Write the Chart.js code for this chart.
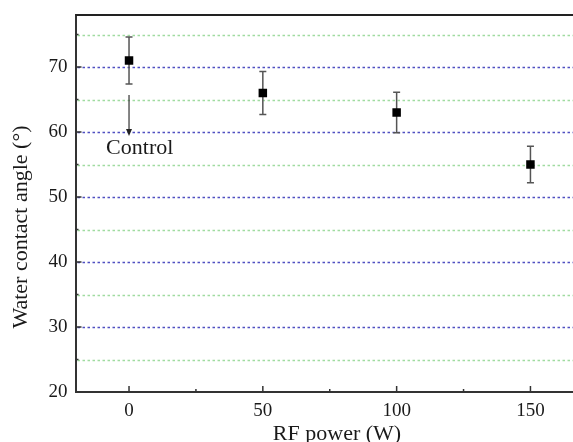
<!DOCTYPE html>
<html>
<head>
<meta charset="utf-8">
<script src="https://cdn.jsdelivr.net/npm/chart.js@4/dist/chart.umd.min.js"></script>
<style>
html,body{margin:0;padding:0;background:#fff;overflow:hidden;width:573px;height:442px;}
#wrap{width:598px;height:442px;}
</style>
</head>
<body>
<div id="wrap"><canvas id="c" width="598" height="442"></canvas></div>
<script>
// ---- data ----
const rfPower = [0, 50, 100, 150];
const contactAngle = [71, 66, 63, 55];
const angleError = [3.6, 3.3, 3.1, 2.8];
const xMajorTicks = [0, 50, 100, 150];
const xMinorTicks = [25, 75, 125, 175];
const yMajorTicks = [20, 30, 40, 50, 60, 70];
const yMinorTicks = [25, 35, 45, 55, 65, 75];
const majorGridValues = [30, 40, 50, 60, 70];
const minorGridValues = [25, 35, 45, 55, 65, 75];
const xTitle = 'RF power (W)';
const yTitle = 'Water contact angle (\u00B0)';
const annotationText = 'Control';
const arrowFrom = [0, 65.7];
const arrowTo = [0, 59.4];
const annotationPos = [4, 57.5];

const FONT = '"Liberation Serif", "Times New Roman", serif';

const decorPlugin = {
  id: 'decor',
  beforeDatasetsDraw(chart) {
    const {ctx, chartArea: a, scales: {x, y}} = chart;
    ctx.save();
    // grid lines
    ctx.lineWidth = 1.3;
    ctx.setLineDash([2.5, 2.5]);
    ctx.strokeStyle = 'rgba(150,215,150,0.9)';
    minorGridValues.forEach(v => {
      const py = Math.round(y.getPixelForValue(v)) + 0.5;
      ctx.beginPath(); ctx.moveTo(a.left + 2, py); ctx.lineTo(a.right, py); ctx.stroke();
    });
    ctx.strokeStyle = 'rgba(70,70,190,0.95)';
    majorGridValues.forEach(v => {
      const py = Math.round(y.getPixelForValue(v)) + 0.5;
      ctx.beginPath(); ctx.moveTo(a.left + 2, py); ctx.lineTo(a.right, py); ctx.stroke();
    });
    ctx.setLineDash([]);
    // top frame line
    ctx.strokeStyle = '#222';
    ctx.lineWidth = 2;
    ctx.beginPath(); ctx.moveTo(a.left, a.top); ctx.lineTo(a.right, a.top); ctx.stroke();
    // inward ticks
    ctx.strokeStyle = '#333';
    ctx.lineWidth = 1.5;
    xMajorTicks.forEach(v => {
      const px = x.getPixelForValue(v);
      ctx.beginPath(); ctx.moveTo(px, a.bottom); ctx.lineTo(px, a.bottom - 6); ctx.stroke();
    });
    xMinorTicks.forEach(v => {
      const px = x.getPixelForValue(v);
      ctx.beginPath(); ctx.moveTo(px, a.bottom); ctx.lineTo(px, a.bottom - 3); ctx.stroke();
    });
    yMajorTicks.forEach(v => {
      const py = y.getPixelForValue(v);
      ctx.beginPath(); ctx.moveTo(a.left, py); ctx.lineTo(a.left + 6, py); ctx.stroke();
    });
    yMinorTicks.forEach(v => {
      const py = y.getPixelForValue(v);
      ctx.beginPath(); ctx.moveTo(a.left, py); ctx.lineTo(a.left + 3, py); ctx.stroke();
    });
    // error bars
    ctx.strokeStyle = '#555';
    ctx.lineWidth = 1.5;
    rfPower.forEach((p, i) => {
      const px = x.getPixelForValue(p);
      const hi = y.getPixelForValue(contactAngle[i] + angleError[i]);
      const lo = y.getPixelForValue(contactAngle[i] - angleError[i]);
      ctx.beginPath();
      ctx.moveTo(px, hi); ctx.lineTo(px, lo);
      ctx.moveTo(px - 3.5, hi); ctx.lineTo(px + 3.5, hi);
      ctx.moveTo(px - 3.5, lo); ctx.lineTo(px + 3.5, lo);
      ctx.stroke();
    });
    // arrow annotation
    const ax = x.getPixelForValue(arrowFrom[0]);
    const ay1 = y.getPixelForValue(arrowFrom[1]);
    const ay2 = y.getPixelForValue(arrowTo[1]);
    ctx.strokeStyle = '#333';
    ctx.fillStyle = '#222';
    ctx.lineWidth = 1.2;
    ctx.beginPath(); ctx.moveTo(ax, ay1); ctx.lineTo(ax, ay2 - 6); ctx.stroke();
    ctx.beginPath(); ctx.moveTo(ax - 3, ay2 - 7); ctx.lineTo(ax + 3, ay2 - 7); ctx.lineTo(ax, ay2); ctx.closePath(); ctx.fill();
    // annotation text
    ctx.font = '22px ' + FONT;
    ctx.textAlign = 'center';
    ctx.textBaseline = 'middle';
    ctx.fillStyle = '#1a1a1a';
    ctx.fillText(annotationText, x.getPixelForValue(annotationPos[0]), y.getPixelForValue(annotationPos[1]));
    ctx.restore();
  },
  afterDraw(chart) {
    const {ctx, chartArea: a} = chart;
    ctx.save();
    ctx.fillStyle = '#1a1a1a';
    ctx.font = '22px ' + FONT;
    // x title
    ctx.textAlign = 'center';
    ctx.textBaseline = 'alphabetic';
    ctx.fillText(xTitle, 337, 440);
    // y title
    ctx.translate(27, 227);
    ctx.rotate(-Math.PI / 2);
    ctx.textBaseline = 'alphabetic';
    ctx.fillText(yTitle, 0, 0);
    ctx.restore();
  }
};

new Chart(document.getElementById('c'), {
  type: 'scatter',
  data: {
    datasets: [{
      label: 'Water contact angle',
      data: rfPower.map((p, i) => ({x: p, y: contactAngle[i]})),
      pointStyle: 'rect',
      pointRadius: 6,
      pointHoverRadius: 6,
      backgroundColor: '#000',
      borderColor: '#000',
      borderWidth: 0
    }]
  },
  options: {
    responsive: false,
    animation: false,
    devicePixelRatio: 1,
    layout: {padding: {top: 15, right: 0, left: 0, bottom: 0}},
    plugins: {legend: {display: false}, tooltip: {enabled: false}},
    scales: {
      x: {
        type: 'linear', min: -20, max: 173,
        afterFit(s) { s.height = 50; s.paddingLeft = 0; s.paddingRight = 0; },
        grid: {display: false, drawTicks: false},
        border: {display: true, color: '#333', width: 2},
        ticks: {
          stepSize: 25, padding: 8, color: '#1a1a1a',
          font: {family: FONT, size: 19},
          callback: v => (xMajorTicks.includes(v) ? String(v) : '')
        }
      },
      y: {
        type: 'linear', min: 20, max: 78,
        afterFit(s) { s.width = 75.5; s.paddingTop = 0; s.paddingBottom = 0; },
        grid: {display: false, drawTicks: false},
        border: {display: true, color: '#333', width: 2},
        ticks: {
          stepSize: 5, padding: 8, color: '#1a1a1a',
          font: {family: FONT, size: 19},
          callback: v => (yMajorTicks.includes(v) ? String(v) : '')
        }
      }
    }
  },
  plugins: [decorPlugin]
});
</script>
</body>
</html>
